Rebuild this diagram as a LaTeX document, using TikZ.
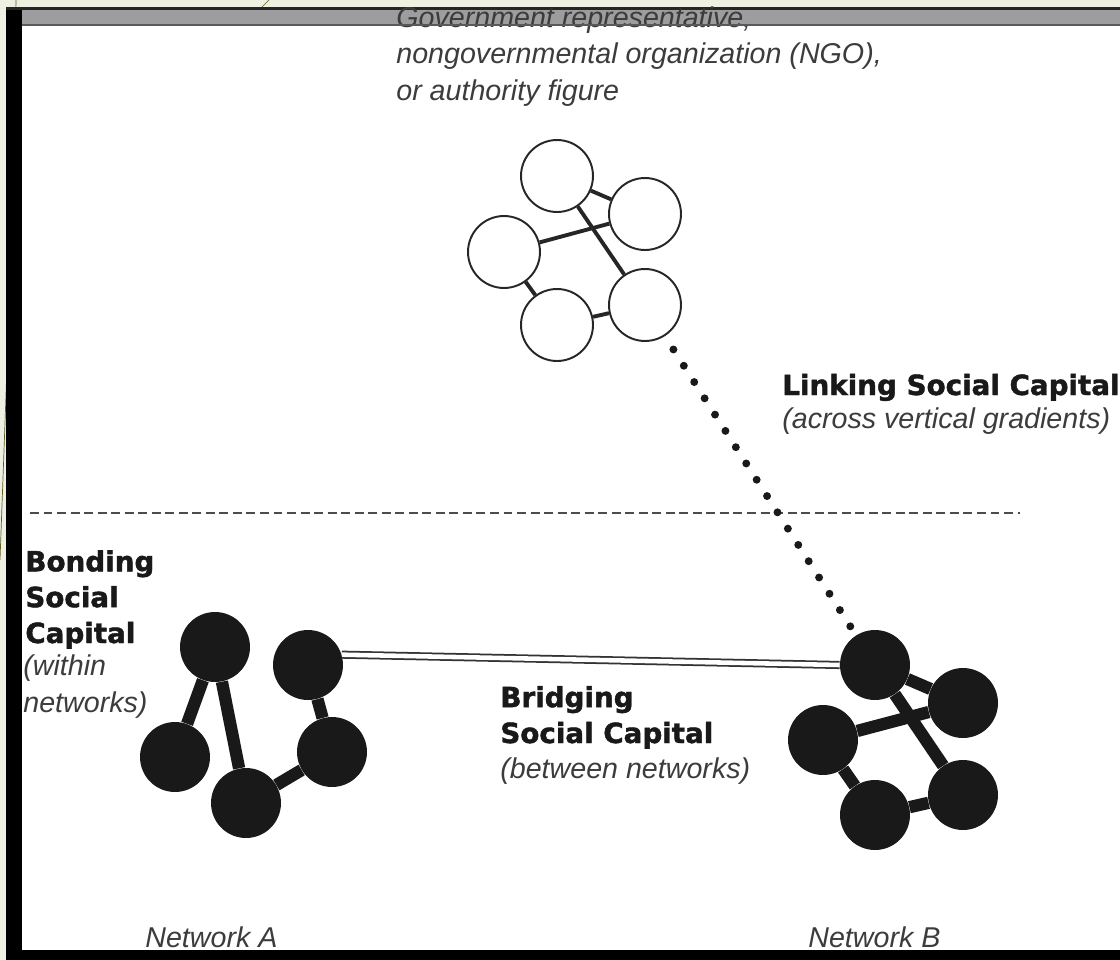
\documentclass[tikz,border=0pt]{standalone}
\usepackage{fontspec}
\setmainfont{Liberation Sans}
\newfontfamily\heavyfont{DejaVu Sans}[BoldFeatures={FakeBold=1.5}]
\usepackage{tikz}
\usetikzlibrary{calc}
\definecolor{slidegreen}{HTML}{EEF0E2}
\definecolor{bargray}{HTML}{9D9DA0}
\definecolor{txtgray}{HTML}{3C3C3C}

\begin{document}
\begin{tikzpicture}[x=0.02cm,y=-0.02cm,
	wnode/.style={circle,draw=black!85,line width=1.1pt,fill=white,minimum size=1.44cm,inner sep=0pt},
	bnode/.style={circle,fill=black!90,minimum size=1.4cm,inner sep=0pt},
	wtie/.style={draw=black!85,line width=2.2pt},
	btie/.style={draw=black!90,line width=7pt},
	bridge/.style={draw=black!80,line width=1pt,double=white,double distance=2.6pt},
	linkdots/.style={draw=black!90,line width=4.5pt,line cap=round,dash pattern=on 0pt off 11pt,shorten <=9pt,shorten >=4pt},
	lbl/.style={font=\heavyfont\bfseries\fontsize{15.8}{20.4}\selectfont,text=black!90,align=left,inner sep=0pt},
	sub/.style={font=\itshape\fontsize{16.3}{20.5}\selectfont,text=txtgray,align=left,inner sep=0pt}]
	\useasboundingbox (0,0) rectangle (1120,960);
	% slide and frame
	\fill[slidegreen] (0,0) rectangle (1120,960);
	\draw[olive!60!black,thin] (16,0) .. controls (11,260) .. (0,560);
	\draw[olive!60!black,thin] (262,7) -- (269,0);
	\fill[white] (22,26) rectangle (1120,950);
	\fill[black] (6,7) rectangle (22,960);
	\fill[black!85] (6,7) rectangle (1120,10);
	\fill[bargray] (22,10) rectangle (1120,25);
	\fill[black] (6,950) rectangle (1120,960);

	% base anchor = last line
	\node[sub,anchor=base west] (govtxt) at (396,100) {Government representative,\\nongovernmental organization (NGO),\\or authority figure};
	\draw[black!65,line width=1pt] (22,25) -- (1120,25);

	\draw[black!70,line width=0.75pt,dash pattern=on 5.1pt off 2.6pt] (30,513) -- (1020,513);

	% government network
	\node[wnode] (g1) at (557,176) {};
	\node[wnode] (g2) at (645,214) {};
	\node[wnode] (g3) at (504,252) {};
	\node[wnode] (g4) at (557,325) {};
	\node[wnode] (g5) at (645,305) {};
	\draw[wtie] (g1) -- (g2);
	\draw[wtie] (g3) -- (g2);
	\draw[wtie] (g1) -- (g5);
	\draw[wtie] (g3) -- (g4);
	\draw[wtie] (g4) -- (g5);

	% network A
	\node[bnode] (a1) at (215,647) {};
	\node[bnode] (a2) at (308,665) {};
	\node[bnode] (a3) at (175,757) {};
	\node[bnode] (a4) at (246,803) {};
	\node[bnode] (a5) at (332,752) {};
	\draw[btie] (a1) -- (a3);
	\draw[btie] (a1) -- (a4);
	\draw[btie] (a4) -- (a5);
	\draw[btie] (a5) -- (a2);

	% network B
	\node[bnode] (b1) at (875,665) {};
	\node[bnode] (b2) at (963,703) {};
	\node[bnode] (b3) at (823,740) {};
	\node[bnode] (b4) at (875,815) {};
	\node[bnode] (b5) at (963,795) {};
	\draw[btie] (b1) -- (b2);
	\draw[btie] (b3) -- (b2);
	\draw[btie] (b1) -- (b5);
	\draw[btie] (b3) -- (b4);
	\draw[btie] (b4) -- (b5);

	\draw[bridge] (a2.17) -- (b1.west);
	\draw[linkdots] (g5) -- (b1);

	\node[lbl,anchor=base west] (linking) at (782,395) {Linking Social Capital};
	\node[sub,anchor=base west] (across) at (782,428) {(across vertical gradients)};
	\node[lbl,anchor=base west] (bonding) at (25,643) {Bonding\\Social\\Capital};
	\node[sub,anchor=base west] (within) at (23,712) {(within\\networks)};
	\node[lbl,anchor=base west] (bridging) at (500,743) {Bridging\\Social Capital};
	\node[sub,anchor=base west] (between) at (500,778) {(between networks)};
	\node[sub,anchor=base west] (neta) at (145,947) {Network A};
	\node[sub,anchor=base west] (netb) at (808,947) {Network B};
\end{tikzpicture}
\end{document}
